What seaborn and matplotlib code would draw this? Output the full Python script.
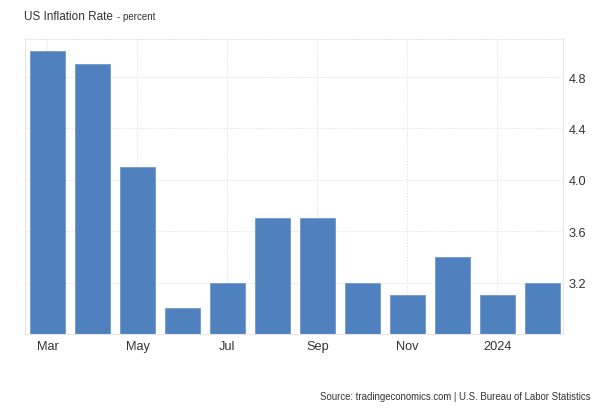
import seaborn as sns
import matplotlib.pyplot as plt
import pandas as pd

# datos (mar 2023 - feb 2024)
months = ['Mar', 'Apr', 'May', 'Jun', 'Jul', 'Aug', 'Sep', 'Oct', 'Nov', 'Dec', 'Jan', 'Feb']
rates = [5.0, 4.9, 4.1, 3.0, 3.2, 3.7, 3.7, 3.2, 3.1, 3.4, 3.1, 3.2]
tick_months = ['Mar', 'May', 'Jul', 'Sep', 'Nov', 'Jan']
tick_labels = ['Mar', 'May', 'Jul', 'Sep', 'Nov', '2024']
y_ticks = [3.2, 3.6, 4.0, 4.4, 4.8]

df = pd.DataFrame({'month': months, 'rate': rates})

sns.set_style('white')
plt.rcParams['font.family'] = ['Liberation Sans', 'DejaVu Sans']

fig = plt.figure(figsize=(6, 4.1), dpi=100)
ax = fig.add_axes([25 / 600, 1 - 335 / 410, 538 / 600, (335 - 39.5) / 410])

sns.barplot(data=df, x='month', y='rate', order=months, color='#4e81bd',
            saturation=1, width=0.78, edgecolor='#6f98cc', linewidth=0.6, ax=ax)

ax.set_ylim(2.8, 5.1)
ax.set_xlim(-0.5, 11.46)

ax.yaxis.tick_right()
ax.set_yticks(y_ticks)
ax.set_yticklabels([f'{v:.1f}' for v in y_ticks])
ax.set_xticks([months.index(m) for m in tick_months])
ax.set_xticklabels(tick_labels)
ax.tick_params(axis='both', length=0, labelsize=9.2, colors='#333333')
ax.tick_params(axis='y', pad=4)
ax.tick_params(axis='x', pad=4)

ax.set_axisbelow(True)
ax.grid(True, color='#e3e3e3', linestyle=(0, (1.5, 1.5)), linewidth=0.7)
ax.set_xlabel('')
ax.set_ylabel('')

for side in ['left', 'right', 'bottom']:
    ax.spines[side].set_color('#e6e6e6')
    ax.spines[side].set_linewidth(0.8)
ax.spines['top'].set_color('#e6e6e6')
ax.spines['top'].set_linestyle((0, (1.5, 1.5)))
ax.spines['top'].set_linewidth(0.7)

fig.text(24 / 600, 1 - 17 / 410, 'US Inflation Rate', fontsize=8.5, color='#333333', va='center')
fig.text(117 / 600, 1 - 17.5 / 410, '- percent', fontsize=7, color='#333333', va='center')
fig.text(590 / 600, 1 - 397 / 410, 'Source: tradingeconomics.com | U.S. Bureau of Labor Statistics',
         fontsize=6.9, color='#333333', ha='right', va='center')

fig.savefig('out.png', dpi=100)
